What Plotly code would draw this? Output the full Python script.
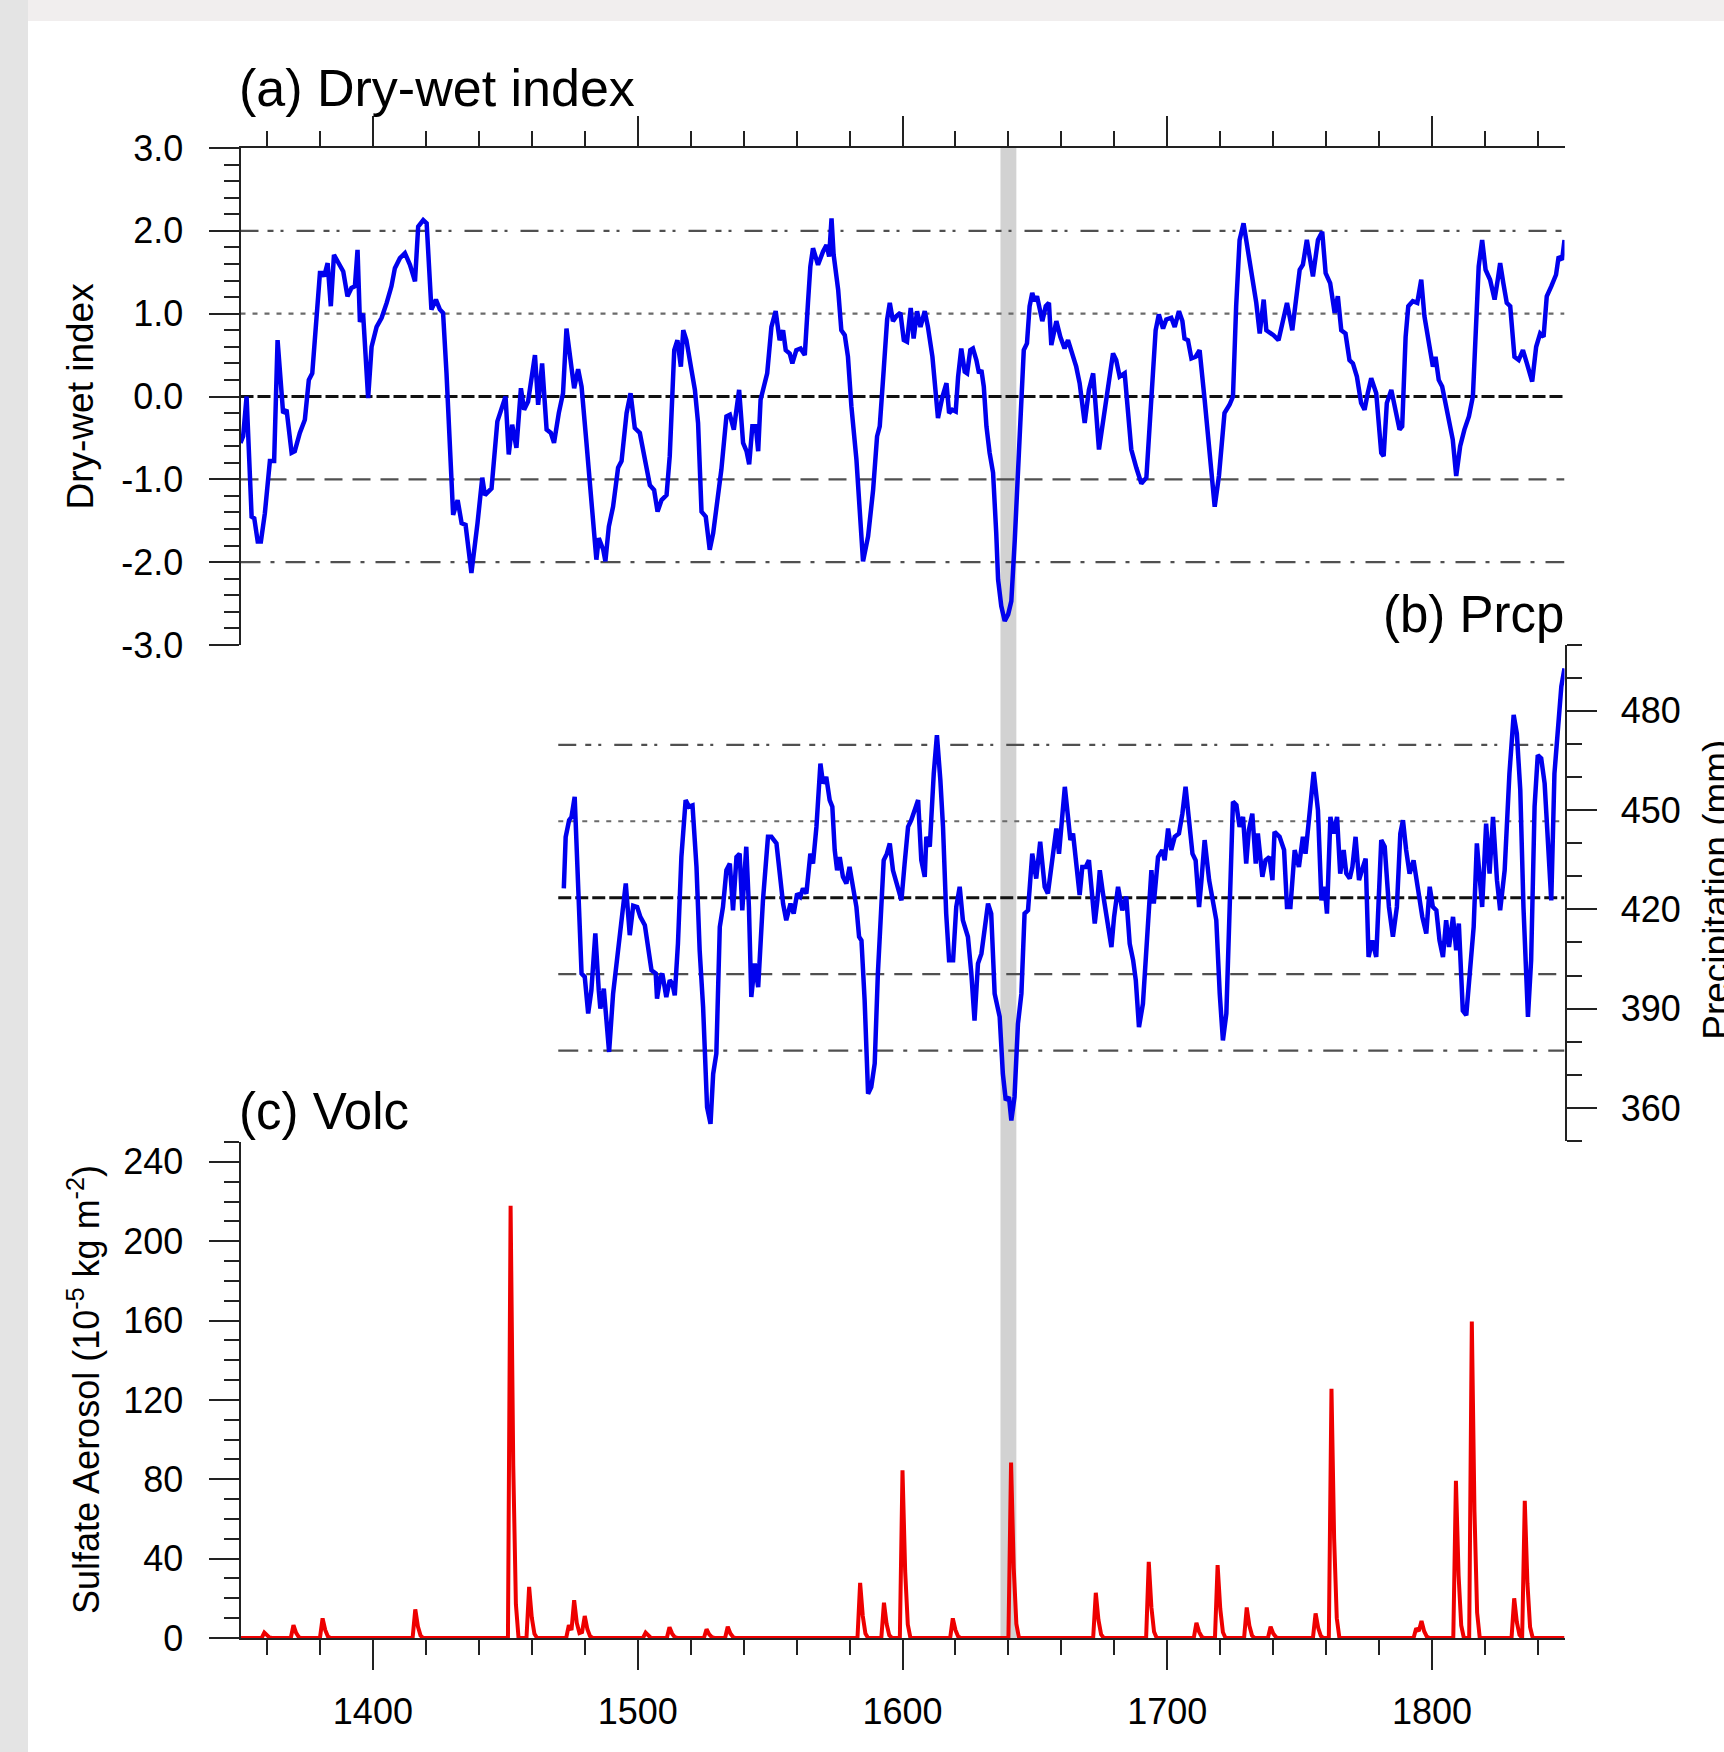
import plotly.graph_objects as go

W, H = 1724, 1752

# ---------------- data ----------------
dwi_years = [1350, 1351, 1352.3, 1354.2, 1355.2, 1356.5, 1357.7, 1359.2, 1361.1, 1362.7, 1364, 1366.1, 1367.4, 1369.3, 1370.5,
             1372.4, 1374.3, 1375.8, 1377.1, 1380, 1380.9, 1381.6, 1382.9, 1384.1, 1385.3, 1386.3, 1387.5, 1388.8, 1390.4,
             1391.9, 1393.2, 1394.2, 1395.1, 1396.3, 1398.2, 1399.5, 1401.4, 1403.3, 1405.2, 1407, 1408.3, 1410.2, 1412.1,
             1414, 1415.9, 1417.1, 1419, 1420.3, 1422.1, 1423.8, 1425.3, 1426.5, 1427.8, 1429.1, 1430.3, 1432, 1433.5, 1435,
             1437.2, 1439.5, 1441.3, 1442.3, 1444.8, 1447, 1449.2, 1450.1, 1451.3, 1452.6, 1454.2, 1455.9, 1457.1, 1458.6,
             1461.2, 1462.4, 1463.9, 1465.6, 1467.2, 1468.4, 1470.2, 1471.8, 1473.1, 1474.4, 1476, 1477.5, 1478.8, 1480.6,
             1482.5, 1483.8, 1484.4, 1485.3, 1487, 1487.8, 1489.1, 1490.7, 1492.6, 1493.9, 1495.8, 1497.3, 1498.9, 1500.8,
             1502.7, 1504.6, 1506.2, 1507.5, 1509, 1510.9, 1512.1, 1513.8, 1515, 1516.3, 1517.2, 1518.4, 1520.3, 1521.6,
             1522.8, 1524.1, 1525.7, 1527.2, 1528.5, 1529.7, 1531.6, 1533.5, 1534.8, 1536.3, 1538.3, 1539.8, 1541.1, 1542.1,
             1543.3, 1544.6, 1545.5, 1546.4, 1548.9, 1550.5, 1552.1, 1553.6, 1554.9, 1555.9, 1557.4, 1558.4, 1559.9, 1561.5,
             1563.1, 1564.3, 1565.2, 1566.2, 1568.1, 1570, 1571.3, 1572.3, 1573.2, 1574, 1575.7, 1576.9, 1578.2, 1579.4,
             1580.7, 1582.6, 1585.1, 1587, 1588.9, 1590.4, 1591.4, 1592.9, 1594.2, 1595.2, 1596.4, 1597.7, 1599.2, 1600.5,
             1601.7, 1603.1, 1604.2, 1605.5, 1606.8, 1608.4, 1609.6, 1611.3, 1612.5, 1613.4, 1615.1, 1616.6, 1617.6, 1618.8,
             1620.1, 1621, 1622.2, 1623.5, 1624.4, 1625.6, 1626.6, 1627.9, 1628.9, 1629.8, 1630.7, 1631.7, 1632.9, 1634.2,
             1635.4, 1636.1, 1637.3, 1638.6, 1639.9, 1641.1, 1642.4, 1643.6, 1644.9, 1645.8, 1647, 1648, 1649, 1649.9, 1650.8,
             1651.8, 1652.8, 1654.1, 1655.3, 1656.2, 1658.1, 1659.6, 1661.2, 1662.5, 1663.8, 1665.6, 1666.9, 1668.8, 1670.4,
             1672, 1674.2, 1675.7, 1677.6, 1679.5, 1680.7, 1682, 1683.9, 1684.5, 1686.4, 1688.3, 1690.2, 1692.1, 1694, 1695.6,
             1696.8, 1698.4, 1699.6, 1701.5, 1702.8, 1704.4, 1705.7, 1706.5, 1707.8, 1709.1, 1710.7, 1712.2, 1714.1, 1716,
             1717.9, 1719.5, 1721.6, 1723.5, 1724.8, 1726, 1727.3, 1728.8, 1730.4, 1732.3, 1733.6, 1734.9, 1736.4, 1737.4,
             1738.6, 1740.1, 1742, 1743.7, 1745.2, 1747.2, 1748.7, 1750, 1751.2, 1752.7, 1755, 1756.9, 1758.5, 1759.8, 1761.5,
             1763.2, 1764.4, 1765.7, 1767.3, 1768.8, 1770.1, 1771.6, 1773.2, 1774.5, 1775.7, 1777, 1778.9, 1780.8, 1781.7,
             1782.9, 1784.6, 1786.2, 1787.7, 1788.7, 1790, 1791, 1792.7, 1794.4, 1795.9, 1797.1, 1799, 1800.3, 1801.3, 1802.5,
             1803.8, 1805.3, 1806.6, 1807.8, 1809.1, 1810.6, 1812.2, 1813.9, 1815.4, 1816.6, 1817.6, 1818.9, 1820.2, 1821.9,
             1823.6, 1824.8, 1825.7, 1826.9, 1828.2, 1829.5, 1831.1, 1832.7, 1834.3, 1835.8, 1837.8, 1839.3, 1840.8, 1842.1,
             1843.3, 1845, 1846.8, 1847.8, 1849.1, 1850]
dwi_values = [-0.56, -0.48, 0.0, -1.45, -1.47, -1.75, -1.75, -1.41, -0.78, -0.78, 0.68, -0.2, -0.16, -0.68, -0.66,
              -0.44, -0.28, 0.2, 0.28, 1.49, 1.49, 1.45, 1.61, 1.09, 1.71, 1.65, 1.57, 1.51, 1.21,
              1.31, 1.33, 1.77, 0.9, 1.0, -0.02, 0.6, 0.84, 0.95, 1.13, 1.33, 1.55, 1.67, 1.73,
              1.59, 1.39, 2.05, 2.13, 2.09, 1.05, 1.17, 1.05, 1.01, 0.28, -0.72, -1.43, -1.25, -1.53, -1.55,
              -2.13, -1.53, -0.98, -1.19, -1.11, -0.3, -0.06, 0.0, -0.7, -0.34, -0.62, 0.1, -0.16, -0.06,
              0.5, -0.1, 0.4, -0.4, -0.44, -0.56, -0.2, 0.04, 0.82, 0.5, 0.1, 0.33, 0.12, -0.54,
              -1.33, -1.73, -1.97, -1.71, -1.85, -1.99, -1.57, -1.33, -0.86, -0.78, -0.2, 0.04, -0.38, -0.44,
              -0.76, -1.07, -1.13, -1.39, -1.25, -1.19, -0.72, 0.56, 0.68, 0.36, 0.8, 0.68, 0.32, 0.08,
              -0.32, -1.39, -1.45, -1.85, -1.65, -1.33, -0.88, -0.24, -0.22, -0.4, 0.08, -0.56, -0.66, -0.82,
              -0.36, -0.36, -0.66, -0.04, 0.28, 0.84, 1.03, 0.68, 0.8, 0.56, 0.52, 0.4, 0.56, 0.58,
              0.5, 1.13, 1.57, 1.79, 1.59, 1.75, 1.83, 1.69, 2.15, 1.71, 1.29, 0.8, 0.74, 0.48,
              -0.12, -0.76, -1.99, -1.69, -1.13, -0.48, -0.36, 0.32, 0.93, 1.13, 0.91, 0.97, 1.01, 0.68,
              0.66, 1.07, 0.7, 1.03, 0.84, 1.03, 0.84, 0.48, 0.04, -0.26, 0.0, 0.16, -0.2, -0.16,
              -0.18, 0.24, 0.58, 0.3, 0.28, 0.56, 0.58, 0.44, 0.28, 0.32, 0.12, -0.36, -0.68, -0.92,
              -1.65, -2.21, -2.53, -2.71, -2.63, -2.47, -1.73, -0.96, -0.24, 0.56, 0.64, 1.09, 1.25, 1.15, 1.21,
              1.05, 0.91, 1.09, 1.13, 0.62, 0.91, 0.72, 0.58, 0.68, 0.54, 0.36, 0.16, -0.32, 0.08,
              0.28, -0.64, -0.32, 0.12, 0.52, 0.44, 0.24, 0.28, 0.04, -0.64, -0.86, -1.05, -0.98, 0.04, 0.8,
              0.99, 0.82, 0.93, 0.95, 0.84, 1.03, 0.91, 0.7, 0.68, 0.46, 0.48, 0.56, -0.04, -0.64,
              -1.33, -0.96, -0.2, -0.1, 0.0, 1.09, 1.89, 2.09, 1.77, 1.45, 1.13, 0.76, 1.17, 0.8,
              0.78, 0.74, 0.68, 0.91, 1.13, 0.8, 1.23, 1.53, 1.59, 1.89, 1.45, 1.89, 1.99, 1.49, 1.37,
              1.01, 1.21, 0.8, 0.76, 0.44, 0.4, 0.24, -0.08, -0.16, 0.04, 0.22, 0.04, -0.68, -0.72,
              -0.08, 0.08, -0.16, -0.4, -0.36, 0.72, 1.09, 1.15, 1.13, 1.41, 0.97, 0.6, 0.36, 0.48, 0.2,
              0.12, -0.12, -0.36, -0.52, -0.96, -0.6, -0.4, -0.24, 0.0, 0.89, 1.57, 1.89, 1.53, 1.41,
              1.17, 1.41, 1.61, 1.37, 1.13, 1.09, 0.48, 0.44, 0.56, 0.4, 0.18, 0.6, 0.76, 0.72,
              1.21, 1.33, 1.47, 1.69, 1.65, 1.89]

prcp_years = [1472.1, 1472.8, 1474.1, 1475, 1476.2, 1477.5, 1478.8, 1480, 1481.3, 1482.5, 1484, 1485.3, 1485.9, 1487.2,
              1488.2, 1489.2, 1490.7, 1492, 1493.5, 1494.5, 1495.5, 1497, 1498.3, 1499.8, 1501, 1502.7, 1503.9, 1505.2,
              1506.8, 1507.3, 1508.6, 1509.3, 1510.8, 1512.1, 1513.1, 1514, 1515.2, 1516.5, 1518.1, 1519.4, 1520.7, 1522.2,
              1523.4, 1524.7, 1526.2, 1527.5, 1528.5, 1529.7, 1531, 1532.2, 1533.5, 1534.8, 1536, 1537.3, 1538.5, 1539.5,
              1541, 1542, 1542.9, 1544.2, 1545.5, 1547.3, 1549.2, 1550.5, 1552.4, 1553.6, 1554.9, 1556.1, 1557.7, 1558.9,
              1560.2, 1561.4, 1562.4, 1563.7, 1565.2, 1566.2, 1567.5, 1569, 1570, 1571.2, 1572.5, 1573.5, 1574.4, 1575.3,
              1576.3, 1577.5, 1578.8, 1580, 1581.3, 1582.6, 1583.6, 1584.5, 1585.7, 1587, 1588.2, 1589.5, 1590.7, 1592,
              1592.9, 1594.1, 1595.2, 1596.4, 1598.3, 1599.6, 1600.8, 1602.1, 1603.3, 1604.6, 1605.9, 1607.1, 1608.4, 1609,
              1610.3, 1611.8, 1613, 1614.3, 1615.3, 1616.5, 1617.6, 1619.1, 1620.3, 1621.6, 1622.8, 1624.7, 1626, 1627.2,
              1628.5, 1629.8, 1631, 1632.3, 1633.5, 1634.8, 1636.7, 1637.9, 1639, 1640.2, 1641.1, 1642.3, 1643.6, 1644.9,
              1646.1, 1647.4, 1649, 1650.5, 1652, 1653.7, 1654.9, 1656.9, 1658.1, 1659.1, 1660.4, 1661.3, 1662.5, 1663.4,
              1664.4, 1665.7, 1666.9, 1667.9, 1669.2, 1670.4, 1671.7, 1672.6, 1673.6, 1674.5, 1675.7, 1677.2, 1678.9, 1679.9,
              1681.4, 1683, 1684.5, 1685.8, 1687.1, 1688.1, 1689.3, 1690.8, 1692.3, 1694, 1694.9, 1696.5, 1698.1, 1699,
              1700.3, 1701.5, 1702.8, 1704.4, 1705.7, 1706.9, 1708.2, 1709.5, 1710.7, 1712, 1712.9, 1714.1, 1715.8, 1717.3,
              1718.5, 1719.8, 1721, 1722.3, 1723.5, 1724.8, 1726.1, 1727.3, 1728.6, 1729.8, 1730.8, 1732.1, 1733.4, 1734.2,
              1735.9, 1737.1, 1738.6, 1739.7, 1740.5, 1742.4, 1744.1, 1745.2, 1746.5, 1748.1, 1749.7, 1751.2, 1752.2, 1753.5,
              1755.3, 1756.9, 1758.2, 1759.4, 1760.3, 1761.6, 1762.8, 1764.1, 1765.3, 1766.6, 1767.6, 1768.9, 1769.9, 1771.1,
              1772.4, 1773.9, 1774.9, 1776, 1777.4, 1778.9, 1780.8, 1782.1, 1783.7, 1785.2, 1786.7, 1788, 1789, 1790.2,
              1791.5, 1793, 1794.6, 1796.3, 1797.8, 1799.1, 1800.3, 1801.6, 1802.8, 1804.1, 1805.3, 1806.4, 1807.9, 1809.1,
              1810.1, 1811.6, 1812.9, 1814.4, 1815.7, 1816.9, 1817.9, 1818.9, 1820.4, 1821.7, 1823, 1824.5, 1825.7, 1827.4,
              1829.2, 1830.8, 1832, 1833.3, 1834.5, 1836.2, 1837.4, 1838.7, 1839.9, 1841.2, 1842.5, 1843.7, 1845, 1846.2,
              1847.5, 1848.8, 1850]
prcp_values = [426.3, 441.8, 446.9, 447.9, 454.0, 424.8, 400.6, 399.6, 388.5, 395.5, 412.7, 395.5, 390.0, 396.0,
               386.4, 376.9, 394.4, 403.6, 412.7, 420.7, 427.8, 412.2, 421.1, 420.7, 417.7, 415.2, 408.6, 401.6,
               400.6, 393.0, 399.6, 400.6, 393.5, 398.6, 397.5, 394.0, 409.6, 435.8, 453.0, 451.0, 451.4, 432.8,
               407.6, 390.4, 360.2, 355.2, 370.3, 376.4, 414.7, 420.7, 431.8, 433.8, 419.7, 435.8, 436.8, 419.7,
               438.9, 420.7, 393.5, 403.6, 396.5, 422.7, 441.9, 441.9, 439.9, 430.8, 421.7, 416.7, 421.7, 418.7,
               424.7, 423.8, 426.3, 424.8, 436.8, 433.8, 444.9, 464.0, 458.0, 460.0, 453.0, 451.0, 437.9, 431.8,
               435.8, 429.8, 427.8, 432.8, 426.8, 420.7, 411.7, 410.6, 392.5, 364.3, 366.3, 373.4, 400.6, 424.8,
               434.8, 436.8, 439.9, 431.8, 425.8, 422.7, 433.8, 444.9, 446.9, 450.5, 453.0, 434.8, 429.8, 441.9,
               438.9, 461.0, 472.6, 459.0, 444.9, 418.7, 404.6, 404.6, 420.7, 426.8, 416.7, 411.7, 400.6, 386.4,
               403.6, 406.6, 413.7, 421.7, 418.7, 394.5, 387.5, 370.3, 362.3, 363.3, 356.2, 363.3, 385.4, 394.5,
               418.7, 419.7, 436.8, 429.3, 440.4, 426.8, 424.8, 438.9, 444.4, 436.8, 448.9, 457.0, 447.9, 440.9,
               442.9, 432.8, 424.3, 432.8, 432.8, 434.8, 421.7, 415.7, 422.7, 431.8, 424.8, 417.7, 408.6, 417.7,
               426.8, 419.7, 423.8, 409.6, 404.6, 398.6, 384.4, 391.5, 408.6, 431.8, 421.7, 435.8, 437.9, 434.8,
               444.4, 437.9, 441.9, 442.9, 448.9, 457.0, 446.9, 436.8, 434.8, 420.7, 428.8, 440.9, 428.8, 421.7,
               416.7, 394.5, 380.4, 388.5, 421.7, 452.5, 451.5, 444.9, 447.9, 433.8, 443.9, 448.9, 433.8, 442.9,
               429.8, 434.8, 435.8, 428.8, 443.4, 441.9, 437.9, 420.7, 420.7, 437.9, 432.8, 441.9, 436.8, 447.9,
               461.5, 449.9, 422.7, 426.8, 418.7, 447.9, 442.9, 447.9, 430.8, 437.9, 430.8, 429.3, 432.8, 441.9,
               428.8, 432.8, 435.3, 405.6, 410.6, 405.6, 440.9, 438.9, 420.7, 411.7, 420.7, 442.9, 446.9, 437.9,
               430.8, 434.8, 425.8, 417.7, 412.7, 426.8, 420.7, 419.7, 410.6, 405.6, 416.7, 408.6, 417.7, 407.6,
               415.7, 389.4, 388.0, 402.6, 414.7, 439.9, 430.8, 420.7, 445.9, 430.8, 447.9, 428.8, 419.7, 431.8,
               461.0, 478.7, 473.1, 456.0, 420.7, 387.5, 404.6, 451.0, 466.6, 465.6, 458.0, 438.9, 422.7, 461.0,
               473.1, 487.3, 492.8]

volc_years = [1350,
              1358, 1359, 1360, 1361, 1362,
              1369, 1370, 1371, 1372, 1373,
              1380, 1381, 1382, 1383, 1384,
              1415, 1416, 1417, 1418, 1419,
              1451, 1452, 1453, 1454, 1455,
              1458, 1459, 1460, 1461, 1462,
              1473, 1474, 1475, 1476, 1477, 1478, 1479, 1480, 1481, 1482, 1483,
              1502, 1503, 1504, 1505,
              1511, 1512, 1513, 1514, 1515,
              1525, 1526, 1527, 1528, 1529,
              1533, 1534, 1535, 1536, 1537,
              1583, 1584, 1585, 1586, 1587,
              1592, 1593, 1594, 1595, 1596,
              1599, 1600, 1601, 1602, 1603,
              1618, 1619, 1620, 1621, 1622,
              1640, 1641, 1642, 1643, 1644,
              1672, 1673, 1674, 1675, 1676,
              1692, 1693, 1694, 1695, 1696,
              1710, 1711, 1712, 1713, 1714,
              1718, 1719, 1720, 1721, 1722,
              1729, 1730, 1731, 1732, 1733,
              1738, 1739, 1740, 1741, 1742,
              1755, 1756, 1757, 1758, 1759,
              1761, 1762, 1763, 1764, 1765,
              1793, 1794, 1795, 1796, 1797, 1798, 1799,
              1808, 1809, 1810, 1811, 1812,
              1814, 1815, 1816, 1817, 1818,
              1830, 1831, 1832, 1833, 1834,
              1835, 1836, 1837, 1838,
              1850]
volc_values = [0,
               0, 2.7, 1.1, 0.2, 0,
               0, 6.5, 2.6, 0.5, 0,
               0, 9.9, 4.0, 0.8, 0,
               0, 14.4, 5.8, 1.2, 0,
               0, 217.9, 87.0, 17.0, 0,
               0, 25.8, 10.3, 2.1, 0,
               0, 6.5, 4.0, 19.1, 7.6, 2.5, 3.0, 11.1, 4.4, 0.9, 0,
               0, 2.7, 1.1, 0,
               0, 5.4, 2.2, 0.4, 0,
               0, 4.4, 1.8, 0.4, 0,
               0, 5.7, 2.3, 0.5, 0,
               0, 27.8, 11.1, 2.2, 0,
               0, 17.8, 7.1, 1.4, 0,
               0, 84.5, 33.8, 6.8, 0,
               0, 9.9, 4.0, 0.8, 0,
               0, 88.4, 35.4, 7.1, 0,
               0, 22.8, 9.1, 1.8, 0,
               0, 38.4, 15.4, 3.1, 0,
               0, 7.7, 3.1, 0.6, 0,
               0, 36.7, 14.7, 2.9, 0,
               0, 15.4, 6.2, 1.2, 0,
               0, 5.7, 2.3, 0.5, 0,
               0, 12.4, 5.0, 1.0, 0,
               0, 125.6, 50.2, 10.0, 0,
               0, 4.9, 3.5, 8.6, 3.4, 0.7, 0,
               0, 79.2, 31.7, 6.3, 0,
               0, 159.5, 63.8, 12.8, 0,
               0, 20.0, 8.0, 1.6, 0,
               69.1, 27.6, 5.5, 0,
               0]

dwi_ref_levels = [2.0, 1.0, 0.0, -1.0, -2.0]
prcp_ref_levels = [469.7, 446.6, 423.5, 400.4, 377.3]
prcp_ref_start = 1470
highlight_years = [1637, 1643]

x_range = [1350, 1850]
x_tickvals = [1400, 1500, 1600, 1700, 1800]
x_ticktext = ["1400", "1500", "1600", "1700", "1800"]
dwi_tickvals = [-3, -2, -1, 0, 1, 2, 3]
dwi_ticktext = ["-3.0", "-2.0", "-1.0", "0.0", "1.0", "2.0", "3.0"]
prcp_tickvals = [360, 390, 420, 450, 480]
prcp_ticktext = ["360", "390", "420", "450", "480"]
volc_tickvals = [0, 40, 80, 120, 160, 200, 240]
volc_ticktext = ["0", "40", "80", "120", "160", "200", "240"]

# ---------------- layout geometry (pixels) ----------------
XL, XR = 240.5, 1564.5
A_TOP, A_BOT = 148, 645
B_TOP, B_BOT = 644.5, 1141
C_TOP, C_BOT = 1142, 1638


def fx(px):
    return px / W


def fy(py):
    return 1 - py / H


FONT = "Liberation Sans, Arial, Helvetica, sans-serif"
AX_COL = "#222222"

fig = go.Figure()

fig.add_trace(go.Scatter(x=volc_years, y=volc_values, xaxis="x", yaxis="y3", mode="lines",
                         line=dict(color="#ee0000", width=4), showlegend=False, hoverinfo="skip"))
fig.add_trace(go.Scatter(x=dwi_years, y=dwi_values, xaxis="x2", yaxis="y", mode="lines",
                         line=dict(color="#0000ee", width=4.5), showlegend=False, hoverinfo="skip"))
fig.add_trace(go.Scatter(x=prcp_years, y=prcp_values, xaxis="x3", yaxis="y2", mode="lines",
                         line=dict(color="#0000ee", width=4.5), showlegend=False, hoverinfo="skip"))

shapes = []
# surround of the original figure: gray left strip and light top strip
shapes.append(dict(type="rect", xref="paper", yref="paper", x0=0, x1=fx(28), y0=0, y1=1,
                   fillcolor="#e4e4e4", line=dict(width=0), layer="below"))
shapes.append(dict(type="rect", xref="paper", yref="paper", x0=fx(28), x1=1, y0=fy(21), y1=1,
                   fillcolor="#f1eeee", line=dict(width=0), layer="below"))
# highlight band
shapes.append(dict(type="rect", xref="x2", yref="paper", x0=highlight_years[0], x1=highlight_years[1],
                   y0=fy(C_BOT), y1=fy(A_TOP), fillcolor="#d2d2d2", line=dict(width=0), layer="below"))

dash_styles = ["18px,9px,6px,7px,3px,13px", "5px,7px", "13px,4px", "18px,10px", "20px,10px,4px,11px"]
colors = ["#505050", "#6a6a6a", "#111111", "#505050", "#505050"]
widths = [2.2, 2.2, 3.0, 2.2, 2.2]
for lev, d, c, w in zip(dwi_ref_levels, dash_styles, colors, widths):
    shapes.append(dict(type="line", xref="x2", yref="y", x0=x_range[0], x1=x_range[1], y0=lev, y1=lev,
                       line=dict(color=c, width=w, dash=d), layer="below"))
for lev, d, c, w in zip(prcp_ref_levels, dash_styles, colors, widths):
    shapes.append(dict(type="line", xref="x3", yref="y2", x0=prcp_ref_start, x1=x_range[1], y0=lev, y1=lev,
                       line=dict(color=c, width=w, dash=d), layer="below"))

tickfont = dict(family=FONT, size=36, color="black")
common_x = dict(range=x_range, domain=[fx(XL), fx(XR)], showgrid=False, zeroline=False,
                showline=True, linecolor=AX_COL, linewidth=2,
                ticks="outside", ticklen=30, tickwidth=2, tickcolor=AX_COL,
                tickmode="array", tickvals=x_tickvals, ticktext=x_ticktext, tickfont=tickfont,
                minor=dict(tickmode="array", tickvals=list(range(1360, 1850, 20)), ticks="outside",
                           ticklen=15, tickwidth=2, tickcolor=AX_COL, showgrid=False))

fig.update_layout(
    width=W, height=H,
    margin=dict(l=0, r=0, t=0, b=0, pad=0, autoexpand=False),
    paper_bgcolor="white",
    plot_bgcolor="rgba(0,0,0,0)",
    font=dict(family=FONT, color="black"),
    showlegend=False,
    shapes=shapes,
    xaxis=dict(common_x, anchor="y3", side="bottom", ticklabelstandoff=11),
    xaxis2=dict(common_x, anchor="y", side="top", showticklabels=False, matches="x"),
    xaxis3=dict(range=x_range, domain=[fx(XL), fx(XR)], anchor="y2", visible=False, matches="x"),
    yaxis=dict(domain=[fy(A_BOT), fy(A_TOP)], range=[-3, 3], anchor="x2", side="left",
               showgrid=False, zeroline=False, showline=True, linecolor=AX_COL, linewidth=2,
               ticks="outside", ticklen=30, tickwidth=2, tickcolor=AX_COL,
               tickmode="array", tickvals=dwi_tickvals, ticktext=dwi_ticktext, tickfont=tickfont,
               ticklabelstandoff=18,
               minor=dict(tickmode="array", tickvals=[round(-3 + 0.2 * i, 1) for i in range(31)],
                          ticks="outside", ticklen=15, tickwidth=2, tickcolor=AX_COL, showgrid=False)),
    yaxis2=dict(domain=[fy(B_BOT), fy(B_TOP)], range=[350, 500], anchor="x3", side="right",
                showgrid=False, zeroline=False, showline=True, linecolor=AX_COL, linewidth=2,
                ticks="outside", ticklen=30, tickwidth=2, tickcolor=AX_COL,
                tickmode="array", tickvals=prcp_tickvals, ticktext=prcp_ticktext, tickfont=tickfont,
                ticklabelstandoff=17,
                minor=dict(tickmode="array", tickvals=list(range(350, 501, 10)),
                           ticks="outside", ticklen=15, tickwidth=2, tickcolor=AX_COL, showgrid=False)),
    yaxis3=dict(domain=[fy(C_BOT), fy(C_TOP)], range=[0, 250], anchor="x", side="left",
                showgrid=False, zeroline=False, showline=True, linecolor=AX_COL, linewidth=2,
                ticks="outside", ticklen=30, tickwidth=2, tickcolor=AX_COL,
                tickmode="array", tickvals=volc_tickvals, ticktext=volc_ticktext, tickfont=tickfont,
                ticklabelstandoff=18,
                minor=dict(tickmode="array", tickvals=list(range(0, 251, 10)),
                           ticks="outside", ticklen=15, tickwidth=2, tickcolor=AX_COL, showgrid=False)),
)

ann = []
ann.append(dict(text="(a) Dry-wet index", x=fx(237), y=fy(88), xref="paper", yref="paper",
                xanchor="left", yanchor="middle", showarrow=False, font=dict(family=FONT, size=52)))
ann.append(dict(text="(b) Prcp", x=fx(1566), y=fy(614), xref="paper", yref="paper",
                xanchor="right", yanchor="middle", showarrow=False, font=dict(family=FONT, size=51)))
ann.append(dict(text="(c) Volc", x=fx(237), y=fy(1111), xref="paper", yref="paper",
                xanchor="left", yanchor="middle", showarrow=False, font=dict(family=FONT, size=51)))
ann.append(dict(text="Dry-wet index", x=fx(80), y=fy((A_TOP + A_BOT) / 2), xref="paper", yref="paper",
                xanchor="center", yanchor="middle", textangle=-90, showarrow=False,
                font=dict(family=FONT, size=37)))
ann.append(dict(text="Sulfate Aerosol (10<sup>-5</sup> kg m<sup>-2</sup>)", x=fx(84),
                y=fy((C_TOP + C_BOT) / 2), xref="paper", yref="paper",
                xanchor="center", yanchor="middle", textangle=-90, showarrow=False,
                font=dict(family=FONT, size=36)))
ann.append(dict(text="Precipitation (mm)", x=fx(1717), y=fy((B_TOP + B_BOT) / 2 - 3), xref="paper", yref="paper",
                xanchor="center", yanchor="middle", textangle=-90, showarrow=False,
                font=dict(family=FONT, size=37)))
fig.update_layout(annotations=ann)

fig.write_html("out.html", config={"displayModeBar": False},
               post_script="document.body.style.margin='0px';")
